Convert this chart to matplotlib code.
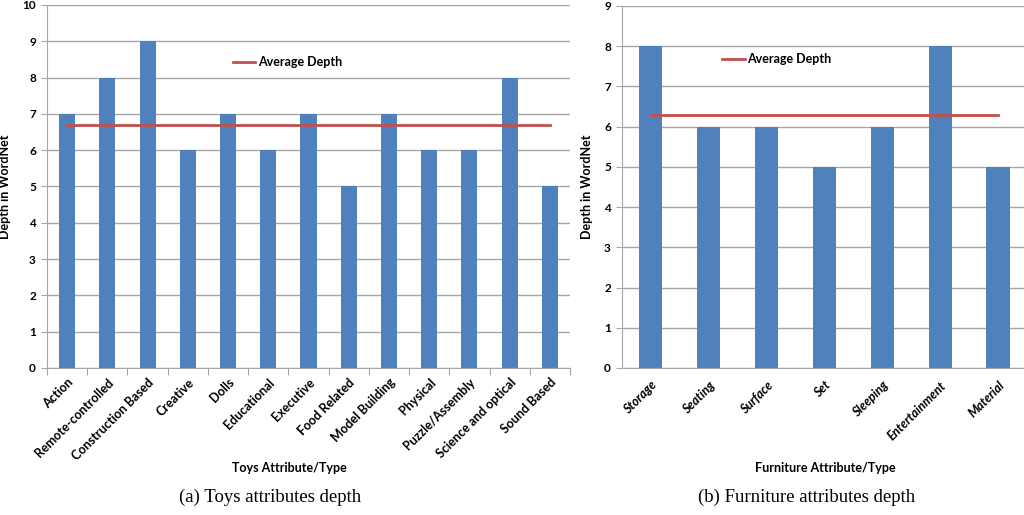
import matplotlib.pyplot as plt
import numpy as np

toys = ['Action', 'Remote-controlled', 'Construction Based', 'Creative', 'Dolls',
        'Educational', 'Executive', 'Food Related', 'Model Building', 'Physical',
        'Puzzle/Assembly', 'Science and optical', 'Sound Based']
toys_depth = [7, 8, 9, 6, 7, 6, 7, 5, 7, 6, 6, 8, 5]
toys_avg = 6.69

furniture = ['Storage', 'Seating', 'Surface', 'Set', 'Sleeping', 'Entertainment', 'Material']
furniture_depth = [8, 6, 6, 5, 6, 8, 5]
furniture_avg = 6.29

bar_color = '#4F81BD'
avg_color = '#C0504D'
grid_color = '#A6A6A6'
sans = ['Lato', 'DejaVu Sans']

fig = plt.figure(figsize=(10.24, 5.15), dpi=100)


def style_axes(ax, ymax):
    ax.set_ylim(0, ymax)
    ax.set_yticks(range(0, ymax + 1))
    ax.yaxis.grid(True, color=grid_color, linewidth=1)
    ax.set_axisbelow(True)
    for s in ['top', 'right']:
        ax.spines[s].set_visible(False)
    for s in ['left', 'bottom']:
        ax.spines[s].set_color(grid_color)
    ax.tick_params(axis='y', length=4, color=grid_color, labelsize=8.5, pad=4)
    for lbl in ax.get_yticklabels():
        lbl.set_fontweight('bold')
        lbl.set_family(sans)


# left panel: toys
ax1 = fig.add_axes([47 / 1024, 1 - 368 / 515, 523 / 1024, 363 / 515])
x1 = np.arange(len(toys))
ax1.bar(x1, toys_depth, width=0.4, color=bar_color, zorder=2)
ax1.plot(x1, [toys_avg] * len(toys), color=avg_color, linewidth=2, label='Average Depth', zorder=3)
ax1.set_xlim(-0.5, len(toys) - 0.5)
style_axes(ax1, 10)
ax1.set_xticks(np.arange(-0.5, len(toys)), minor=False)
ax1.set_xticklabels([])
ax1.set_xticks(x1, minor=True)
ax1.set_xticklabels(toys, minor=True, rotation=45, ha='right', rotation_mode='anchor',
                    fontsize=9, fontweight='bold', family=sans)
ax1.tick_params(axis='x', which='major', length=5, color=grid_color)
ax1.tick_params(axis='x', which='minor', length=0, pad=6)
ax1.set_ylabel('Depth in WordNet', fontsize=9, fontweight='bold', family=sans, labelpad=8)
ax1.set_xlabel('Toys Attribute/Type', fontsize=9, fontweight='bold', family=sans)
ax1.xaxis.set_label_coords(0.463, -0.26)
ax1.legend(loc='center left', bbox_to_anchor=(0.355, 0.843), frameon=False, borderpad=0,
           borderaxespad=0, handlelength=1.8, handletextpad=0.2,
           prop={'family': sans, 'weight': 'bold', 'size': 9})

# right panel: furniture
ax2 = fig.add_axes([622 / 1024, 1 - 368 / 515, 402 / 1024, 362 / 515])
x2 = np.arange(len(furniture))
ax2.bar(x2, furniture_depth, width=0.4, color=bar_color, zorder=2)
ax2.plot(x2, [furniture_avg] * len(furniture), color=avg_color, linewidth=2, label='Average Depth', zorder=3)
ax2.set_xlim(-0.5, len(furniture) - 0.55)
style_axes(ax2, 9)
ax2.set_xticks(x2)
ax2.set_xticklabels(furniture, rotation=45, ha='right', rotation_mode='anchor',
                    fontsize=9, fontweight='bold', style='italic', family=sans)
ax2.tick_params(axis='x', length=0, pad=8)
ax2.set_ylabel('Depth in WordNet', fontsize=9, fontweight='bold', family=sans, labelpad=8)
ax2.set_xlabel('Furniture Attribute/Type', fontsize=9, fontweight='bold', family=sans)
ax2.xaxis.set_label_coords((825 - 622) / 402, -0.26)
ax2.legend(loc='center left', bbox_to_anchor=(0.249, 0.853), frameon=False, borderpad=0,
           borderaxespad=0, handlelength=1.8, handletextpad=0.2,
           prop={'family': sans, 'weight': 'bold', 'size': 9})

# captions
fig.text(270 / 1024, 1 - 497 / 515, '(a) Toys attributes depth', ha='center', va='center',
         fontsize=13.5, family='Liberation Serif')
fig.text(807 / 1024, 1 - 497 / 515, '(b) Furniture attributes depth', ha='center', va='center',
         fontsize=13.5, family='Liberation Serif')

fig.savefig('out.png', dpi=100, facecolor='white')
